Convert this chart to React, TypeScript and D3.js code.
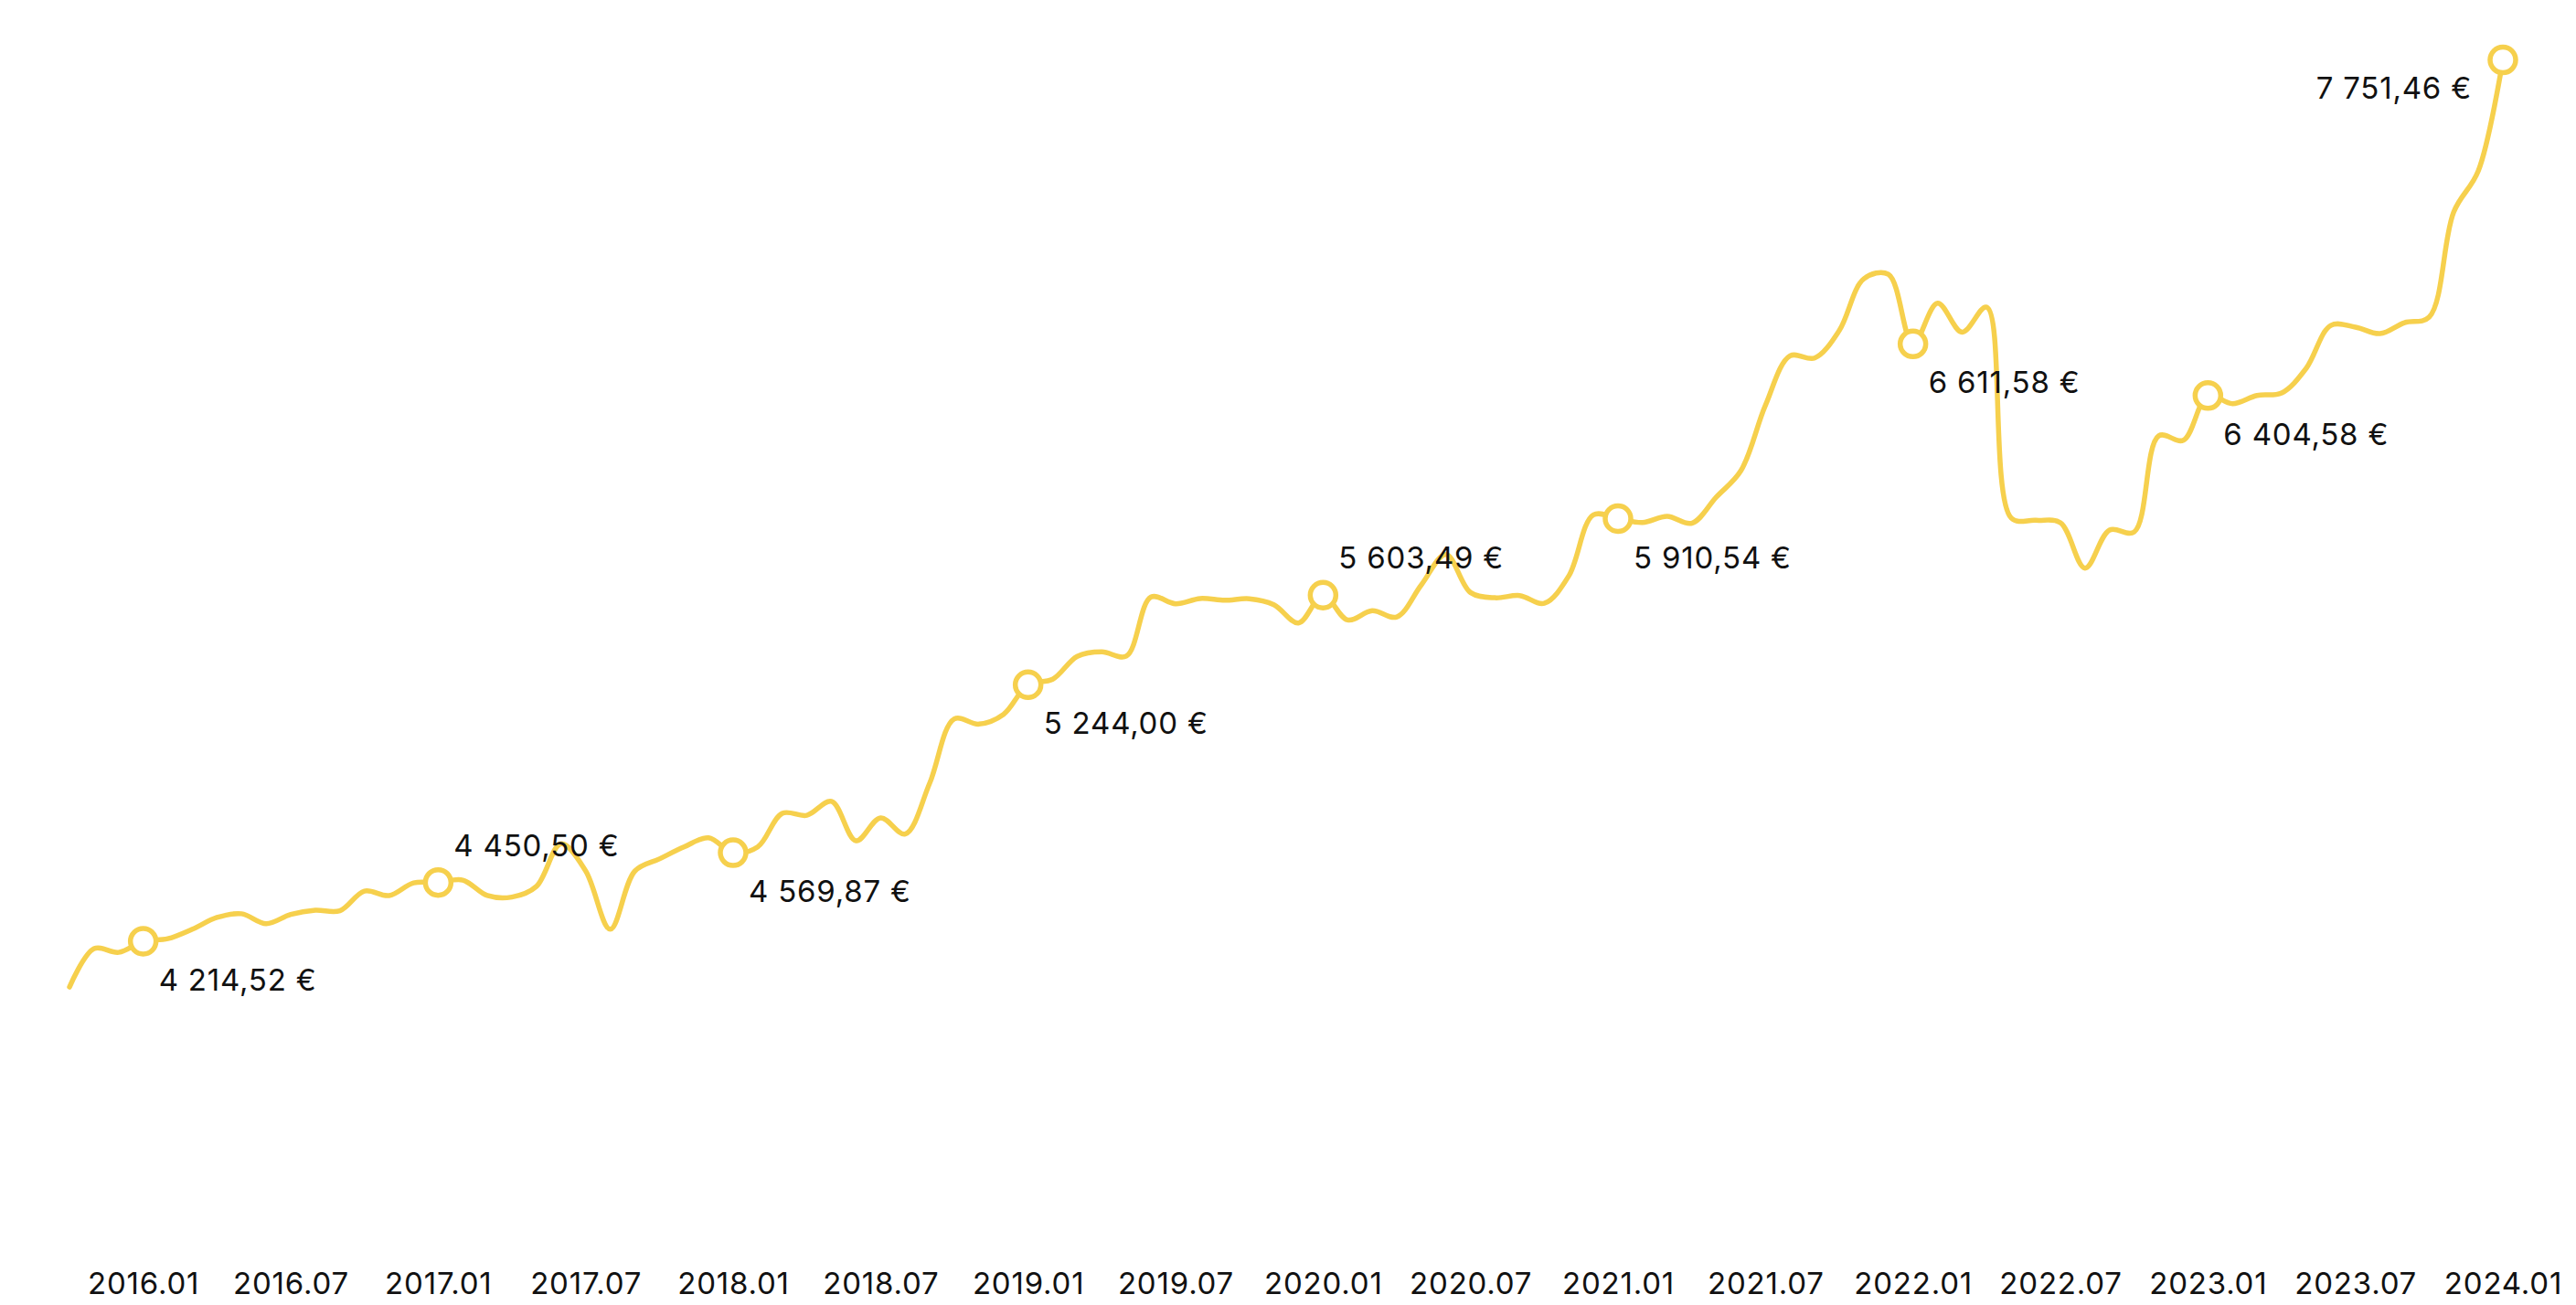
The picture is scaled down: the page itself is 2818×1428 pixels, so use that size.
import { useEffect, useRef } from 'react';
import * as d3 from 'd3';

// Monthly values, 2015.10 -> 2024.01
const values = [
  4031, 4185, 4170,
  4214.52, 4225, 4263, 4310, 4325, 4285, 4322, 4339, 4337, 4416, 4398, 4449,
  4450.5, 4460, 4398, 4392, 4435, 4606, 4497, 4263, 4496, 4545, 4593, 4630,
  4569.87, 4593, 4728, 4720, 4776, 4618, 4710, 4645, 4850, 5107, 5086, 5125,
  5244.0, 5266, 5358, 5376, 5359, 5596, 5569, 5590, 5583, 5589, 5565, 5492,
  5603.49, 5504, 5541, 5516, 5645, 5767, 5614, 5593, 5602, 5571, 5681, 5926,
  5910.54, 5895, 5920, 5892, 5997, 6103, 6366, 6564, 6555, 6665, 6873, 6891,
  6611.58, 6775, 6659, 6759, 5913, 5904, 5894, 5712, 5865, 5857, 6243, 6225,
  6404.58, 6372, 6405, 6415, 6514, 6686, 6679, 6653, 6697, 6719, 7141, 7306,
  7751.46,
];

const monthFmt = d3.timeFormat('%Y.%m');
const months = d3.timeMonths(new Date(2015, 9, 1), new Date(2024, 0, 2)).map(monthFmt);

const tickLabels = [
  '2016.01', '2016.07', '2017.01', '2017.07', '2018.01', '2018.07', '2019.01', '2019.07',
  '2020.01', '2020.07', '2021.01', '2021.07', '2022.01', '2022.07', '2023.01', '2023.07', '2024.01',
];

// annotated points (every January) and where their label goes
const markedMonths = [
  '2016.01', '2017.01', '2018.01', '2019.01', '2020.01', '2021.01', '2022.01', '2023.01', '2024.01',
];
const labelSide = ['below', 'above', 'below', 'below', 'above', 'below', 'below', 'below', 'left'];

const W = 2818;
const H = 1428;

export default function App() {
  const svgRef = useRef<SVGSVGElement>(null);

  useEffect(() => {
    if (!svgRef.current) return;
    const svg = d3.select(svgRef.current);
    svg.selectAll('*').remove();

    const data = months.map((m, i) => ({ month: m, value: values[i] }));

    const x = d3.scalePoint<string>().domain(months).range([76, 2738]);
    const y = d3.scaleLinear().domain([4000, 7800]).range([1088.5, 52.3]);

    const locale = d3.formatLocale({ decimal: ',', thousands: ' ', grouping: [3], currency: ['', ' €'] });
    const fmt = locale.format('$,.2f');

    const color = '#f6d04d';
    const font = 'Inter, "Noto Sans", sans-serif';

    // x axis labels only
    const axis = svg
      .append('g')
      .attr('transform', `translate(0,1416)`)
      .call(d3.axisBottom(x).tickValues(tickLabels).tickSize(0).tickPadding(0));
    axis.select('.domain').remove();
    axis
      .selectAll('text')
      .attr('dy', null)
      .attr('y', 0)
      .attr('font-family', font)
      .attr('font-size', 33)
      .attr('letter-spacing', 0.8)
      .attr('fill', '#111');

    const line = d3
      .line<{ month: string; value: number }>()
      .x((d) => x(d.month)!)
      .y((d) => y(d.value))
      .curve(d3.curveCatmullRom);

    svg
      .append('path')
      .datum(data)
      .attr('d', line)
      .attr('fill', 'none')
      .attr('stroke', color)
      .attr('stroke-width', 5.5)
      .attr('stroke-linecap', 'round')
      .attr('stroke-linejoin', 'round');

    const marked = markedMonths.map((m, i) => ({
      month: m,
      value: values[months.indexOf(m)],
      side: labelSide[i],
    }));

    svg
      .append('g')
      .selectAll('circle')
      .data(marked)
      .join('circle')
      .attr('cx', (d) => x(d.month)!)
      .attr('cy', (d) => y(d.value))
      .attr('r', 14)
      .attr('fill', '#fff')
      .attr('stroke', color)
      .attr('stroke-width', 5.5);

    svg
      .append('g')
      .selectAll('text')
      .data(marked)
      .join('text')
      .attr('x', (d) => x(d.month)! + (d.side === 'left' ? -34 : 17))
      .attr('y', (d) => y(d.value) + (d.side === 'above' ? -29 : d.side === 'left' ? 42 : 54))
      .attr('text-anchor', (d) => (d.side === 'left' ? 'end' : 'start'))
      .attr('font-family', font)
      .attr('font-size', 33)
      .attr('letter-spacing', 0.8)
      .attr('fill', '#111')
      .text((d) => fmt(d.value));
  }, []);

  return (
    <svg
      ref={svgRef}
      width={W}
      height={H}
      style={{ position: 'absolute', left: 0, top: 0, background: '#fff', display: 'block' }}
    />
  );
}
